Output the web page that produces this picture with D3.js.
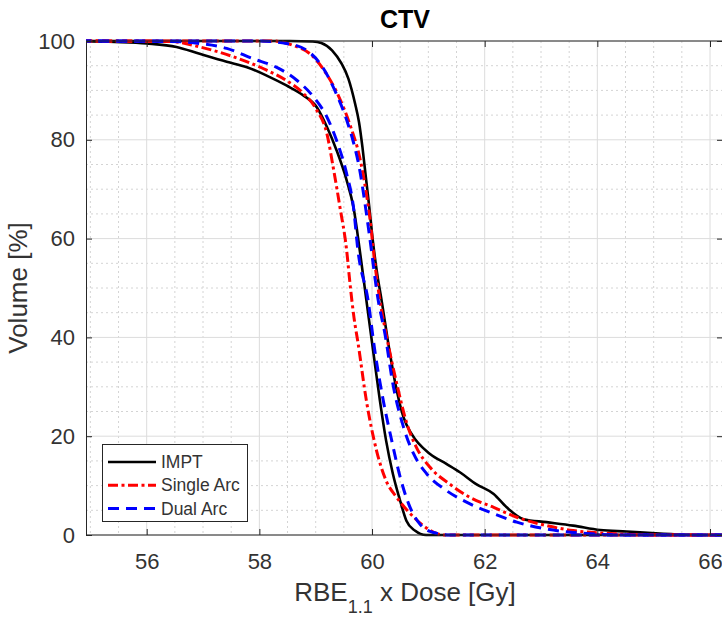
<!DOCTYPE html>
<meta charset="utf-8">
<style>
  body { margin: 0; background: #fff; }
  text { font-family: "Liberation Sans", Arial, sans-serif; }
</style>
<script src="https://d3js.org/d3.v7.min.js"></script>
<div id="chart"></div>
<script>

// dose [Gy] / volume [%] pairs
var imptHigh = [[54.5,100],[58.54,100],[58.95,99.9],[59.10,99.6],[59.29,98.1],[59.46,95.4],[59.58,92.4],[59.70,87.3],[59.77,83.5],[59.83,78.5],[59.89,72.5],[59.95,66.5],[60.01,60],[60.09,53],[60.17,47.5],[60.31,37.3],[60.44,29.2],[60.56,23.8],[60.70,20.5],[61.03,16.4],[61.32,14.4],[61.56,12.7],[61.85,10.3],[62.16,8.3],[62.39,5.6],[62.69,3.2],[63.10,2.6],[63.57,1.9],[64.05,1.0],[64.52,0.7],[65.11,0.3],[65.59,0.05],[65.79,0],[66.5,0]];
var imptLow = [[54.5,100],[55.43,99.8],[56.0,99.5],[56.53,98.8],[56.94,97.4],[57.42,95.8],[57.78,94.7],[58.13,93.0],[58.48,91.0],[58.78,89.0],[59.02,86.6],[59.20,82.6],[59.37,77.9],[59.55,71.8],[59.67,66.4],[59.79,57],[59.90,47.5],[60.02,37.3],[60.14,27.2],[60.25,19.1],[60.37,12.4],[60.50,6.9],[60.61,2.9],[60.76,0.9],[60.96,0],[66.5,0]];
var singleHigh = [[54.5,100],[58.24,100],[58.60,99.1],[58.90,97.4],[59.17,93.7],[59.40,89],[59.61,83],[59.78,76.5],[59.90,69.1],[59.96,64.3],[60.05,55],[60.14,47.5],[60.25,40.7],[60.44,30.6],[60.62,22.5],[60.79,17.7],[61.03,13.7],[61.38,10.3],[61.74,7.6],[62.16,5.6],[62.57,3.6],[63.10,1.9],[63.57,0.9],[64.23,0.3],[65.11,0],[66.5,0]];
var singleLow = [[54.5,100],[56.43,99.9],[56.94,98.8],[57.54,96.8],[58.13,94.1],[58.48,92.0],[58.78,89.4],[59.02,86.0],[59.20,81.2],[59.31,74.5],[59.43,66.4],[59.55,57.6],[59.61,50.8],[59.68,44],[59.75,39],[59.90,27.2],[60.08,17.1],[60.25,11.0],[60.44,7.6],[60.68,4.3],[60.91,1.9],[61.15,0.3],[61.26,0],[66.5,0]];
var dualHigh = [[54.5,100],[57.94,100],[58.48,99.5],[58.84,98.1],[59.08,95.4],[59.34,90],[59.55,84],[59.67,79.5],[59.78,74],[59.87,67.5],[59.95,61],[60.11,47.5],[60.23,40.7],[60.37,30.6],[60.56,21.8],[60.74,16.4],[60.97,12.4],[61.32,9.0],[61.74,6.3],[62.16,4.3],[62.57,2.6],[63.10,1.2],[63.81,0.3],[64.52,0],[66.5,0]];
var dualLow = [[54.5,100],[56.43,99.9],[56.94,99.5],[57.42,98.5],[57.89,96.4],[58.30,94.7],[58.67,92.0],[58.96,88.7],[59.20,84.6],[59.37,79.9],[59.55,73.1],[59.67,66.4],[59.75,57.6],[59.93,47.5],[60.05,37.3],[60.20,27.2],[60.35,19.1],[60.50,11.7],[60.65,6.3],[60.85,2.2],[61.09,0.5],[61.38,0],[66.5,0]];

var xTicks = [56, 58, 60, 62, 64, 66];
var yTicks = [0, 20, 40, 60, 80, 100];
var legendNames = ["IMPT", "Single Arc", "Dual Arc"];

var W = 722, H = 617;
var pLeft = 86, pRight = 723, pTop = 41, pBottom = 535;

var svg = d3.select("#chart").append("svg")
  .attr("width", W).attr("height", H);

var x = d3.scaleLinear().domain([56, 66]).range([146.7, 710]);
var y = d3.scaleLinear().domain([0, 100]).range([pBottom, pTop]);

// grid, minor dotted then major solid
var minorX = d3.range(55, 66.3, 0.5).filter(function(d) { return d % 2 != 0; });
var minorY = d3.range(5, 100, 5).filter(function(d) { return d % 20 != 0; });

svg.append("g").selectAll("line").data(minorX).enter().append("line")
  .attr("x1", x).attr("x2", x).attr("y1", pTop).attr("y2", pBottom)
  .attr("stroke", "#d4d4d4").attr("stroke-dasharray", "2,3");
svg.append("g").selectAll("line").data(minorY).enter().append("line")
  .attr("x1", pLeft).attr("x2", pRight).attr("y1", y).attr("y2", y)
  .attr("stroke", "#d4d4d4").attr("stroke-dasharray", "2,3");
svg.append("g").selectAll("line").data(xTicks).enter().append("line")
  .attr("x1", x).attr("x2", x).attr("y1", pTop).attr("y2", pBottom)
  .attr("stroke", "#dcdcdc");
svg.append("g").selectAll("line").data(yTicks).enter().append("line")
  .attr("x1", pLeft).attr("x2", pRight).attr("y1", y).attr("y2", y)
  .attr("stroke", "#dcdcdc");

// curves
svg.append("clipPath").attr("id", "clip").append("rect")
  .attr("x", pLeft).attr("y", pTop - 3).attr("width", pRight - pLeft).attr("height", pBottom - pTop + 6);

var line = d3.line()
  .x(function(d) { return x(d[0]); })
  .y(function(d) { return y(d[1]); })
  .curve(d3.curveMonotoneX);

var styles = [
  {color: "#000000", dash: null, width: 2.6},
  {color: "#ff0000", dash: "10,3.5,3,3.5", width: 3},
  {color: "#0000ff", dash: "11,7", width: 3}
];
var curves = [[imptHigh, 0], [imptLow, 0], [singleHigh, 1], [singleLow, 1], [dualHigh, 2], [dualLow, 2]];

var plot = svg.append("g").attr("clip-path", "url(#clip)");
curves.forEach(function(c) {
  var s = styles[c[1]];
  plot.append("path")
    .datum(c[0])
    .attr("d", line)
    .attr("fill", "none")
    .attr("stroke", s.color)
    .attr("stroke-width", s.width)
    .attr("stroke-dasharray", s.dash);
});

// axes (ticks inside, MATLAB style)
var axisColor = "#262626";
function styleAxis(g) {
  g.select(".domain").attr("stroke", axisColor);
  g.selectAll(".tick line").attr("stroke", axisColor);
  g.selectAll(".tick text").attr("fill", "#333").style("font-size", "22px")
    .style("font-family", "'Liberation Sans', Arial, sans-serif");
}
svg.append("g").attr("transform", "translate(0," + pBottom + ")")
  .call(d3.axisBottom(x).tickValues(xTicks).tickSize(-6).tickSizeOuter(0).tickPadding(18))
  .call(styleAxis)
  .select(".domain").attr("d", "M" + pLeft + ",0H" + pRight);
svg.append("g").attr("transform", "translate(" + pLeft + ",0)")
  .call(d3.axisLeft(y).tickValues(yTicks).tickSize(-6).tickSizeOuter(0).tickPadding(11))
  .call(styleAxis);
svg.append("g").attr("transform", "translate(0," + pTop + ")")
  .call(d3.axisTop(x).tickValues(xTicks).tickSize(-6).tickSizeOuter(0).tickFormat(""))
  .call(styleAxis)
  .select(".domain").attr("d", "M" + pLeft + ",0H" + pRight);
svg.append("g").attr("transform", "translate(" + pRight + ",0)")
  .call(d3.axisRight(y).tickValues(yTicks).tickSize(-6).tickSizeOuter(0).tickFormat(""))
  .call(styleAxis);

// title and labels
svg.append("text").attr("x", 405).attr("y", 28).attr("text-anchor", "middle")
  .style("font-size", "25px").style("font-weight", "bold").attr("fill", "#000").text("CTV");

var xl = svg.append("text").attr("x", 405).attr("y", 601).attr("text-anchor", "middle")
  .style("font-size", "26px").attr("fill", "#333");
xl.append("tspan").text("RBE");
xl.append("tspan").attr("dy", 12).style("font-size", "18px").text("1.1");
xl.append("tspan").attr("dy", -12).text(" x Dose [Gy]");

svg.append("text").attr("transform", "translate(27,288) rotate(-90)").attr("text-anchor", "middle")
  .style("font-size", "26px").attr("fill", "#333").text("Volume [%]");

// legend
var lg = svg.append("g");
lg.append("rect").attr("x", 102.5).attr("y", 444.5).attr("width", 145).attr("height", 77)
  .attr("fill", "#fff").attr("stroke", axisColor).attr("stroke-width", 1);
legendNames.forEach(function(name, i) {
  var s = styles[i];
  var ly = 462 + i * 23.3;
  lg.append("line").attr("x1", 108).attr("x2", 156).attr("y1", ly).attr("y2", ly)
    .attr("stroke", s.color).attr("stroke-width", s.width).attr("stroke-dasharray", s.dash);
  lg.append("text").attr("x", 161).attr("y", ly).attr("dy", "0.35em")
    .style("font-size", "17.5px").attr("fill", "#333").text(name);
});

</script>
